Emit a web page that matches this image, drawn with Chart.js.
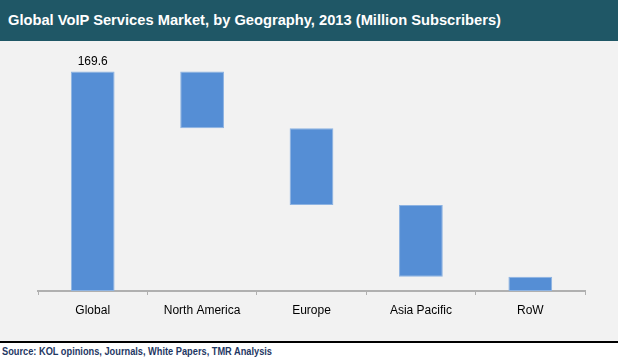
<!DOCTYPE html>
<html>
<head>
<meta charset="utf-8">
<script src="https://cdn.jsdelivr.net/npm/chart.js@4/dist/chart.umd.min.js"></script>
<style>
  html, body { margin: 0; padding: 0; }
  body { width: 618px; height: 358px; background: #f2f2f2; position: relative; overflow: hidden;
         font-family: Arial, "Liberation Sans", sans-serif; }
  #title { position: absolute; left: 0; top: 0; width: 618px; height: 41px; background: #1f5766; }
  #title span { position: absolute; left: 8px; top: 11px; color: #fff; font-weight: bold; font-size: 15px;
                white-space: nowrap; transform-origin: 0 0; }
  #wrap { position: absolute; left: 0; top: 41px; width: 618px; height: 300px; }
  #foot { position: absolute; left: 0; top: 341px; width: 618px; height: 17px; background: #fff;
          border-top: 2px solid #000; box-sizing: border-box; }
  #foot span { position: absolute; left: 2px; top: 3px; color: #1f3864; font-weight: bold; font-size: 10px;
               white-space: nowrap; transform-origin: 0 0; }
</style>
</head>
<body>
<div id="title"><span id="titleText">Global VoIP Services Market, by Geography, 2013 (Million Subscribers)</span></div>
<div id="wrap"><canvas id="chart" width="618" height="300"></canvas></div>
<div id="foot"><span id="srcText">Source: KOL opinions, Journals, White Papers, TMR Analysis</span></div>
<script>
// waterfall data, million subscribers
var categories = ["Global", "North America", "Europe", "Asia Pacific", "RoW"];
var totalValue = 169.6;
var regionValues = [43.8, 59.3, 55.4, 11.1];

// build floating ranges: total bar from 0, regions step down from the total
var ranges = [[0, totalValue]];
var level = totalValue;
regionValues.forEach(function(v) {
  ranges.push([Math.round((level - v) * 10) / 10, level]);
  level = level - v;
});

// squeeze a text span to a target width
function fitWidth(id, w) {
  var el = document.getElementById(id);
  var cur = el.getBoundingClientRect().width;
  el.style.transform = 'scaleX(' + (w / cur) + ')';
}
fitWidth('titleText', 493);
fitWidth('srcText', 270);

var valueLabel = {
  id: 'valueLabel',
  afterDatasetsDraw: function(chart) {
    var bar = chart.getDatasetMeta(0).data[0];
    var ctx = chart.ctx;
    ctx.save();
    ctx.font = '12px Arial, "Liberation Sans", sans-serif';
    ctx.fillStyle = '#000';
    ctx.textAlign = 'center';
    ctx.textBaseline = 'middle';
    ctx.fillText(totalValue.toFixed(1), bar.x, bar.y - 10);
    ctx.restore();
  }
};

new Chart(document.getElementById('chart'), {
  type: 'bar',
  data: {
    labels: categories,
    datasets: [{
      data: ranges,
      backgroundColor: '#558ed5',
      borderColor: '#8db3e2',
      borderWidth: 1,
      borderSkipped: false,
      categoryPercentage: 1,
      barPercentage: 0.4
    }]
  },
  options: {
    responsive: false,
    animation: false,
    layout: { padding: { left: 38, right: 33, top: 17, bottom: 0 } },
    plugins: { legend: { display: false }, tooltip: { enabled: false } },
    scales: {
      x: {
        grid: { offset: true, drawOnChartArea: false, tickLength: 4, color: '#b0b0b0', lineWidth: 1 },
        border: { color: '#b0b0b0', width: 2 },
        ticks: { color: '#000', padding: 8, font: { family: 'Arial, "Liberation Sans", sans-serif', size: 12 } },
        afterFit: function(scale) { scale.height = 50; }
      },
      y: {
        display: false,
        min: 0,
        max: 180
      }
    }
  },
  plugins: [valueLabel]
});
</script>
</body>
</html>
